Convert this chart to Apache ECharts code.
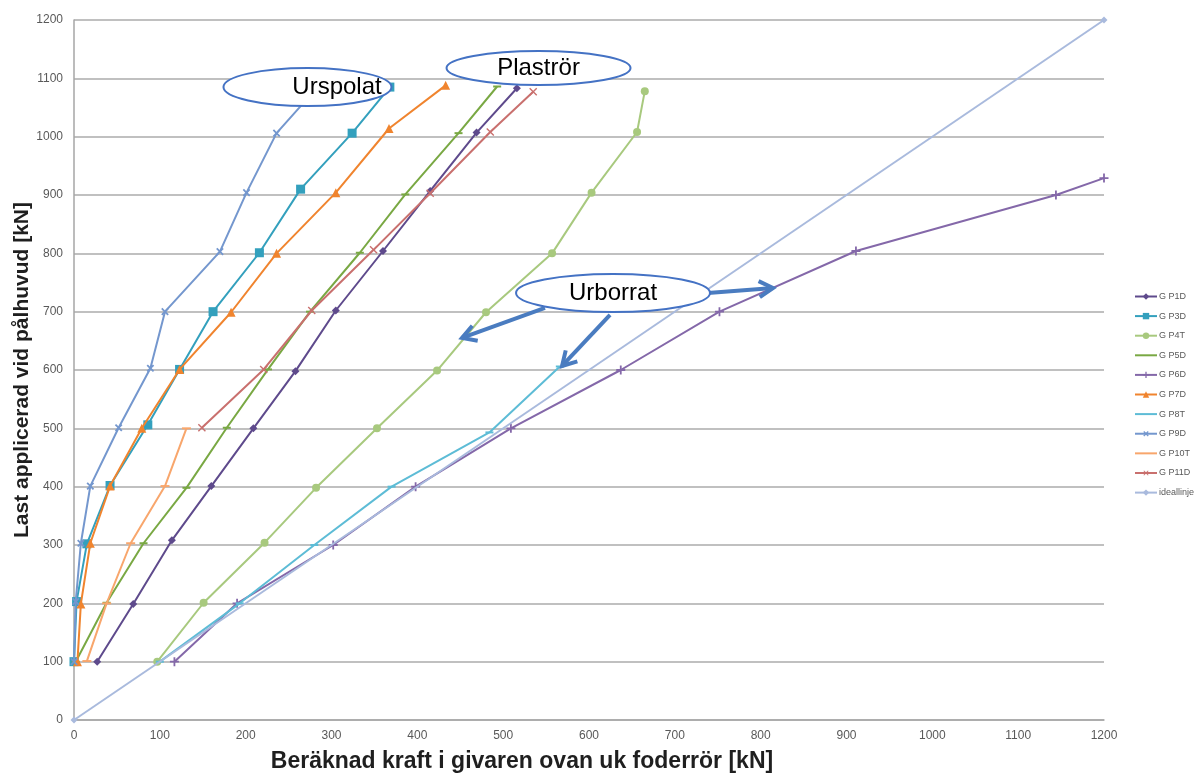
<!DOCTYPE html>
<html>
<head>
<meta charset="utf-8">
<script src="https://cdn.jsdelivr.net/npm/echarts@6/dist/echarts.min.js"></script>
<style>
  html, body { margin: 0; padding: 0; background: #ffffff; }
  #chart { width: 1200px; height: 774px; }
</style>
</head>
<body>
<div id="chart"></div>
<script>
// Load tests: computed force in the gauge [kN] vs applied load at pile head [kN]
const xTitle = 'Beräknad kraft i givaren ovan uk foderrör [kN]';
const yTitle = 'Last applicerad vid pålhuvud [kN]';
const axisMin = 0;
const axisMax = 1200;
const axisStep = 100;

const seriesNames = ['G P1D', 'G P3D', 'G P4T', 'G P5D', 'G P6D', 'G P7D', 'G P8T', 'G P9D', 'G P10T', 'G P11D', 'ideallinje'];

const gP1D  = [[27,100],[69,199],[114,308],[160,401],[209,500],[258,598],[305,702],[360,804],[415,907],[469,1007],[516,1083]];
const gP3D  = [[0,100],[3,203],[15,302],[42,402],[86,506],[123,601],[162,700],[216,801],[264,910],[324,1006],[368,1085]];
const gP4T  = [[97,100],[151,201],[222,304],[282,398],[353,500],[423,599],[480,699],[557,800],[603,904],[656,1008],[665,1078]];
const gP5D  = [[2,100],[38,201],[81,303],[131,398],[178,501],[226,601],[275,700],[333,801],[386,901],[448,1006],[493,1086]];
const gP6D  = [[117,100],[190,200],[302,300],[398,400],[509,500],[637,600],[752,700],[911,804],[1144,900],[1200,929]];
const gP7D  = [[4,100],[8,199],[19,303],[42,401],[79,500],[123,601],[183,699],[236,800],[305,904],[367,1014],[433,1088]];
const gP8T  = [[100,100],[193,200],[280,300],[370,400],[484,493],[566,606]];
const gP9D  = [[0,100],[2,203],[8,303],[19,401],[52,501],[89,603],[106,700],[170,803],[201,904],[236,1006],[282,1082]];
const gP10T = [[15,101],[38,200],[66,303],[106,401],[131,500]];
const gP11D = [[149,501],[221,601],[277,702],[349,806],[415,903],[485,1008],[535,1077]];
const ideal = [[0,0],[1200,1200]];

const seriesData = [gP1D, gP3D, gP4T, gP5D, gP6D, gP7D, gP8T, gP9D, gP10T, gP11D, ideal];
const seriesColors = ['#5E4A8C', '#33A0BD', '#A8C97E', '#79A843', '#8468A9', '#F0842E', '#5DBCD6', '#7497CE', '#F8A66C', '#C9706E', '#A9BADD'];

const PLUS = 'path://M4,0L6,0L6,4L10,4L10,6L6,6L6,10L4,10L4,6L0,6L0,4L4,4Z';
const STAR = 'path://M4.3,0L5.7,0L5.7,4.3L10,4.3L10,5.7L5.7,5.7L5.7,10L4.3,10L4.3,5.7L0,5.7L0,4.3L4.3,4.3Z';
const markers = [
  { symbol: 'diamond', size: 8, rotate: 0 },
  { symbol: 'rect', size: 9, rotate: 0 },
  { symbol: 'circle', size: 8, rotate: 0 },
  { symbol: 'rect', size: [8, 2], rotate: 0 },
  { symbol: PLUS, size: 9, rotate: 0 },
  { symbol: 'triangle', size: 9, rotate: 0 },
  { symbol: 'rect', size: [8, 2], rotate: 0 },
  { symbol: PLUS, size: 9, rotate: 45 },
  { symbol: 'rect', size: [9, 2], rotate: 0 },
  { symbol: STAR, size: 10, rotate: 45 },
  { symbol: 'diamond', size: 7, rotate: 0 }
];
// series drawn with dash markers show a plain line in the legend
const plainLegend = { 'G P5D': true, 'G P8T': true, 'G P10T': true };
const LINE_ICON = 'path://M0,3.5L22,3.5L22,5.5L0,5.5Z';

// Callout labels and arrows, anchored in data coordinates
const callouts = [
  { text: 'Urspolat', center: [272, 1085], textAt: [306.4, 1085], rx: 84, ry: 19 },
  { text: 'Plaströr', center: [541.2, 1117.7], textAt: [541.2, 1117.7], rx: 92, ry: 17 },
  { text: 'Urborrat', center: [628, 732], textAt: [628, 732], rx: 97, ry: 19 }
];
const arrows = [
  { from: [548.7, 706.3], to: [452.0, 654.9] },
  { from: [624.5, 694.3], to: [568.6, 606.9] },
  { from: [738.7, 732.0], to: [814.4, 740.6] }
];

const chart = echarts.init(document.getElementById('chart'), null, { renderer: 'canvas' });

const series = seriesNames.map((name, i) => ({
  name: name,
  type: 'line',
  data: seriesData[i],
  symbol: markers[i].symbol,
  symbolSize: markers[i].size,
  symbolRotate: markers[i].rotate,
  showAllSymbol: true,
  clip: true,
  z: 2 + i,
  lineStyle: { color: seriesColors[i], width: 2 },
  itemStyle: { color: seriesColors[i], borderWidth: 0 },
  emphasis: { disabled: true },
  animation: false
}));

const legendData = seriesNames.map(n => plainLegend[n] ? { name: n, icon: LINE_ICON } : { name: n });

chart.setOption({
  backgroundColor: '#ffffff',
  animation: false,
  grid: { left: 74, right: 96, top: 20, bottom: 54, containLabel: false, outerBoundsMode: 'none' },
  legend: {
    orient: 'vertical',
    left: 1134,
    top: 292,
    padding: 0,
    itemWidth: 22,
    itemHeight: 8,
    itemGap: 10.6,
    data: legendData,
    textStyle: { color: '#595959', fontSize: 9, fontFamily: 'Liberation Sans', padding: [0, 0, 0, -3] }
  },
  xAxis: {
    type: 'value',
    min: axisMin, max: axisMax, interval: axisStep,
    name: xTitle,
    nameLocation: 'middle',
    nameGap: 30,
    nameMoveOverlap: false,
    nameTextStyle: { fontFamily: 'Liberation Sans', fontWeight: 'bold', fontSize: 23, color: '#1f1f1f', padding: [0, 134, 0, 0], verticalAlign: 'top' },
    axisLine: { show: true, lineStyle: { color: '#A6A6A6', width: 1.5 } },
    axisTick: { show: false },
    splitLine: { show: false },
    axisLabel: { color: '#595959', fontSize: 12, margin: 10, fontFamily: 'Liberation Sans', formatter: v => String(v) }
  },
  yAxis: {
    type: 'value',
    min: axisMin, max: axisMax, interval: axisStep,
    name: yTitle,
    nameLocation: 'middle',
    nameGap: 41,
    nameMoveOverlap: false,
    nameRotate: 90,
    nameTextStyle: { fontFamily: 'Liberation Sans', fontWeight: 'bold', fontSize: 21, color: '#1f1f1f' },
    axisLine: { show: true, lineStyle: { color: '#A6A6A6', width: 1.5 } },
    axisTick: { show: false },
    splitLine: { show: true, lineStyle: { color: '#C0C0C0', width: 2 } },
    axisLabel: { color: '#595959', fontSize: 12, margin: 11, fontFamily: 'Liberation Sans', formatter: v => String(v) }
  },
  series: series
});

function toPx(p) { return chart.convertToPixel({ gridIndex: 0 }, p); }

function arrowGraphics(a) {
  const t = toPx(a.from), h = toPx(a.to);
  const ang = Math.atan2(h[1] - t[1], h[0] - t[0]);
  const len = 16, spread = Math.PI / 6;
  const p1 = [h[0] - len * Math.cos(ang - spread), h[1] - len * Math.sin(ang - spread)];
  const p2 = [h[0] - len * Math.cos(ang + spread), h[1] - len * Math.sin(ang + spread)];
  const style = { stroke: '#4A7CC0', lineWidth: 4, fill: null, lineCap: 'butt', lineJoin: 'miter' };
  return [
    { type: 'line', z: 100, shape: { x1: t[0], y1: t[1], x2: h[0], y2: h[1] }, style: style },
    { type: 'polyline', z: 100, shape: { points: [p1, h, p2] }, style: style }
  ];
}

const graphics = [];
arrows.forEach(a => graphics.push(...arrowGraphics(a)));
callouts.forEach(c => {
  const ce = toPx(c.center), te = toPx(c.textAt);
  graphics.push({
    type: 'ellipse', z: 101,
    shape: { cx: ce[0], cy: ce[1], rx: c.rx, ry: c.ry },
    style: { fill: '#ffffff', stroke: '#4472C4', lineWidth: 2 }
  });
  graphics.push({
    type: 'text', z: 102,
    x: te[0], y: te[1],
    style: { text: c.text, fill: '#000000', font: '24px "Liberation Sans"', align: 'center', verticalAlign: 'middle' }
  });
});
chart.setOption({ graphic: graphics });
</script>
</body>
</html>
